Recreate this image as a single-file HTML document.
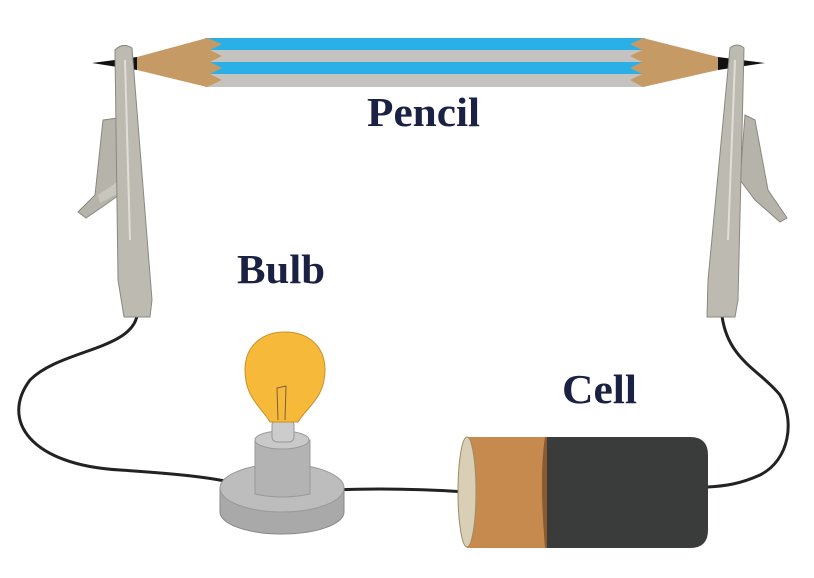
<!DOCTYPE html>
<html><head><style>
html,body{margin:0;padding:0;background:#fff;}
svg{display:block}
text{font-family:"Liberation Serif",serif;font-weight:bold;fill:#1b2142}
</style></head><body>
<svg width="814" height="578" viewBox="0 0 814 578" xmlns="http://www.w3.org/2000/svg">
<!-- wires -->
<path d="M137,316 C130,350 60,350 30,380 C0,420 30,465 120,470 C180,474 220,478 245,486" fill="none" stroke="#222" stroke-width="3"/>
<path d="M722,316 C728,360 760,370 780,395 C795,420 790,460 760,475 C740,484 725,486 708,487" fill="none" stroke="#222" stroke-width="3"/>
<path d="M336,490 C380,488 420,489 466,492" fill="none" stroke="#222" stroke-width="3"/>
<!-- pencil -->
<polygon points="92,63 137,57 137,70" fill="#111"/>
<polygon points="765,63 718,57 718,70" fill="#111"/>
<rect x="205" y="38" width="440" height="12" fill="#2ab0e6"/>
<rect x="205" y="50" width="440" height="12" fill="#c5c3c0"/>
<rect x="205" y="62" width="440" height="12" fill="#2ab0e6"/>
<rect x="205" y="74" width="440" height="13" fill="#c5c3c0"/>
<polygon points="207,38 137,57 137,70 207,87 222,80 210,74 222,68 210,62 222,56 210,50 222,44" fill="#c69a64"/>
<polygon points="643,38 718,57 718,70 643,87 630,80 642,74 630,68 642,62 630,56 642,50 630,44" fill="#c69a64"/>
<!-- left clip -->
<polygon points="103,120 118,118 126,190 105,205 86,218 78,212 95,195" fill="#b6b4aa" stroke="#8a887f"/>
<polygon points="98,195 120,180 125,190 100,203" fill="#c9c7bd"/>
<path d="M115,50 Q123,42 132,48 L152,300 L150,317 L124,317 L118,280 Z" fill="#bdbbb1" stroke="#8a887f"/>
<line x1="125" y1="60" x2="130" y2="240" stroke="#e0ded6" stroke-width="2"/>
<!-- right clip -->
<polygon points="745,115 755,120 768,190 787,218 780,222 755,200 740,180" fill="#b6b4aa" stroke="#8a887f"/>
<path d="M730,48 Q737,42 744,48 L738,300 L735,317 L707,317 L708,280 Z" fill="#bdbbb1" stroke="#8a887f"/>
<line x1="735" y1="60" x2="728" y2="240" stroke="#e0ded6" stroke-width="2"/>
<!-- labels -->
<text x="367" y="126" font-size="41" textLength="113" lengthAdjust="spacingAndGlyphs">Pencil</text>
<text x="237" y="283" font-size="41" textLength="88" lengthAdjust="spacingAndGlyphs">Bulb</text>
<text x="562" y="403" font-size="41" textLength="75" lengthAdjust="spacingAndGlyphs">Cell</text>
<!-- bulb -->
<path d="M220,488 L220,512 A62,22 0 0 0 344,512 L344,488 Z" fill="#a9a9a9" stroke="#888"/>
<ellipse cx="282" cy="488" rx="62" ry="24" fill="#bdbdbd" stroke="#999"/>
<path d="M255,440 L255,494 Q282,500 310,494 L310,440 Z" fill="#b3b3b3" stroke="#999"/>
<ellipse cx="282" cy="440" rx="27" ry="9" fill="#c9c9c9" stroke="#999"/>
<rect x="272" y="420" width="22" height="22" rx="5" fill="#ccc" stroke="#999"/>
<path d="M270,422 C262,408 245,398 245,370 C245,346 262,332 285,332 C308,332 325,346 325,370 C325,398 306,408 298,422 Z" fill="#f7b93a" stroke="#c7922a"/>
<path d="M278,420 L277,388 L286,386 L285,420" fill="none" stroke="#7a6040" stroke-width="1"/>
<!-- cell -->
<path d="M545,437 L690,437 Q708,437 708,455 L708,530 Q708,548 690,548 L545,548 Z" fill="#3a3b3b"/>
<rect x="467" y="437" width="80" height="111" fill="#c78a4e"/>
<path d="M545,437 C540,470 542,510 545,548 L547,548 L547,437Z" fill="#8a5a30"/>
<ellipse cx="467" cy="492" rx="9" ry="55" fill="#d9cfb6" stroke="#a08b60"/>
</svg>
</body></html>
